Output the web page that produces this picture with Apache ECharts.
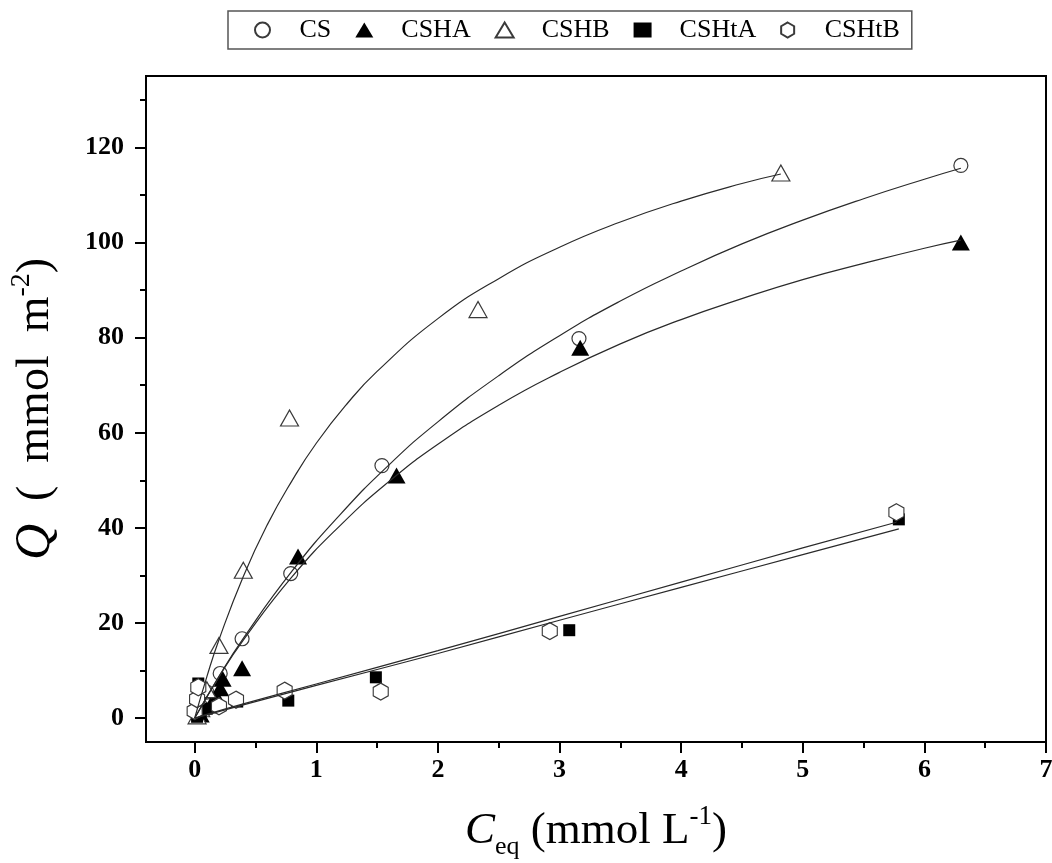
<!DOCTYPE html>
<html>
<head>
<meta charset="utf-8">
<script src="https://cdn.jsdelivr.net/npm/echarts@6/dist/echarts.min.js"></script>
<style>
  html, body { margin: 0; padding: 0; background: #fff; }
  #chart { width: 1052px; height: 863px; }
</style>
</head>
<body>
<div id="chart"></div>
<script>
// Adsorption isotherms: measured points, Q (mmol m-2) against Ceq (mmol L-1)
const csPts = [[0.02, 1.0], [0.05, 2.5], [0.1, 5.5], [0.21, 9.4], [0.39, 16.7], [0.79, 30.4], [1.54, 53.1], [3.16, 79.8], [6.30, 116.2]];
const cshaPts = [[0.05, 0.8], [0.13, 2.7], [0.18, 4.5], [0.21, 6.3], [0.23, 8.3], [0.39, 10.5], [0.85, 34.0], [1.66, 51.0], [3.17, 77.9], [6.30, 100.0]];
const cshbPts = [[0.02, 0.5], [0.05, 2.0], [0.1, 6.0], [0.2, 15.3], [0.40, 31.1], [0.78, 63.1], [2.33, 85.9], [4.82, 114.6]];
const cshtaPts = [[0.02, 0.3], [0.05, 1.0], [0.03, 7.3], [0.1, 2.0], [0.35, 3.5], [0.77, 3.7], [1.49, 8.6], [3.08, 18.5], [5.79, 41.8]];
const cshtbPts = [[0.0, 1.5], [0.02, 4.0], [0.03, 6.5], [0.2, 2.5], [0.34, 3.9], [0.74, 5.8], [1.53, 5.6], [2.92, 18.3], [5.77, 43.3]];

// Fitted curves, sampled along each isotherm
const csFit = [[0, 0], [0.2, 8.8], [0.4, 16.8], [0.8, 30.9], [1.2, 42.9], [1.6, 53.3], [2.0, 62.3], [2.5, 72.0], [3.0, 80.4], [3.5, 87.7], [4.0, 94.0], [4.5, 99.7], [5.0, 104.7], [5.5, 109.2], [6.0, 113.3], [6.3, 115.6]];
const cshaFit = [[0, 0], [0.2, 8.7], [0.4, 16.4], [0.8, 29.7], [1.2, 40.6], [1.6, 49.8], [2.0, 57.6], [2.5, 65.8], [3.0, 72.7], [3.5, 78.7], [4.0, 83.8], [4.5, 88.2], [5.0, 92.2], [5.5, 95.6], [6.0, 98.8], [6.3, 100.5]];
const cshbFit = [[0, 0], [0.1, 8.7], [0.2, 16.5], [0.4, 29.8], [0.6, 40.8], [0.8, 49.9], [1.0, 57.8], [1.25, 66.0], [1.5, 72.9], [2.0, 84.0], [2.5, 92.4], [3.0, 99.0], [3.5, 104.3], [4.0, 108.7], [4.5, 112.4], [4.82, 114.4]];
const cshtaFit = [[0, 0], [0.1, 0.7], [0.4, 2.8], [1, 6.9], [2, 13.6], [3, 20.6], [4, 27.5], [5, 34.4], [5.79, 39.8]];
const cshtbFit = [[0, 0], [0.1, 0.8], [0.4, 3.0], [1, 7.2], [2, 14.2], [3, 21.4], [4, 28.6], [5, 35.8], [5.77, 41.2]];

// Axis ticks
const xMajor = [0, 1, 2, 3, 4, 5, 6, 7];
const xMinor = [0.5, 1.5, 2.5, 3.5, 4.5, 5.5, 6.5];
const yMajor = [0, 20, 40, 60, 80, 100, 120];
const yMinor = [10, 30, 50, 70, 90, 110, 130];

const seriesNames = ['CS', 'CSHA', 'CSHB', 'CSHtA', 'CSHtB'];

const SERIF = '"Liberation Serif", "Times New Roman", serif';
const HEX = 'path://M0,-1 L0.866,-0.5 L0.866,0.5 L0,1 L-0.866,0.5 L-0.866,-0.5 Z';
const INK = '#000';
const EDGE = '#3a3a3a';

function scatter(name, data, symbol, size, filled) {
  return {
    name: name,
    type: 'scatter',
    data: data,
    symbol: symbol,
    symbolSize: size,
    symbolKeepAspect: false,
    z: 3,
    itemStyle: filled
      ? { color: INK, borderColor: INK, borderWidth: 0, opacity: 1 }
      : { color: '#fff', borderColor: EDGE, borderWidth: 1.2, opacity: 1 }
  };
}

function fit(data) {
  return {
    type: 'line',
    data: data,
    smooth: true,
    showSymbol: false,
    silent: true,
    z: 4,
    lineStyle: { color: '#2a2a2a', width: 1.2 }
  };
}

const chart = echarts.init(document.getElementById('chart'), null, { renderer: 'canvas' });

chart.setOption({
  animation: false,
  backgroundColor: '#fff',
  grid: {
    left: 146, right: 6, top: 76, bottom: 121,
    outerBoundsMode: 'none',
    containLabel: false,
    show: true, borderColor: '#000', borderWidth: 2, backgroundColor: 'transparent'
  },
  legend: {
    data: seriesNames,
    left: 228,
    top: 11,
    padding: [6, 12, 6, 26],
    itemWidth: 18,
    itemHeight: 15,
    itemGap: 24,
    borderColor: '#555',
    borderWidth: 1.5,
    formatter: function (n) { return '{t|' + n + '}'; },
    textStyle: {
      rich: {
        t: { fontFamily: SERIF, fontSize: 26, color: '#000', padding: [0, 0, 0, 23] }
      }
    }
  },
  xAxis: [
    {
      type: 'value',
      min: -0.4,
      max: 7,
      axisLine: { onZero: false, lineStyle: { color: '#000', width: 2 } },
      axisTick: { show: true, length: 11, customValues: xMajor, lineStyle: { color: '#000', width: 2 } },
      axisLabel: { customValues: xMajor, margin: 15, fontFamily: SERIF, fontWeight: 'bold', fontSize: 26, color: '#000' },
      splitLine: { show: false },
      name: '{c|C}{e|eq}{n| (mmol L}{s|-1}{n|)}',
      nameLocation: 'middle',
      nameGap: 60,
      nameTextStyle: {
        rich: {
          c: { fontFamily: SERIF, fontStyle: 'italic', fontSize: 45, color: '#000' },
          e: { fontFamily: SERIF, fontSize: 26, color: '#000', padding: [32, 0, 0, 0] },
          n: { fontFamily: SERIF, fontSize: 45, color: '#000' },
          s: { fontFamily: SERIF, fontSize: 27, color: '#000', padding: [0, 0, 28, 0] }
        }
      }
    },
    {
      type: 'value',
      min: -0.4,
      max: 7,
      position: 'bottom',
      offset: 0,
      axisLine: { show: false, onZero: false },
      axisTick: { show: true, length: 6, customValues: xMinor, lineStyle: { color: '#000', width: 2 } },
      axisLabel: { show: false },
      splitLine: { show: false }
    }
  ],
  yAxis: [
    {
      type: 'value',
      min: -5,
      max: 135,
      axisLine: { onZero: false, lineStyle: { color: '#000', width: 2 } },
      axisTick: { show: true, length: 11, customValues: yMajor, lineStyle: { color: '#000', width: 2 } },
      axisLabel: { customValues: yMajor, margin: 22, fontFamily: SERIF, fontWeight: 'bold', fontSize: 26, color: '#000' },
      splitLine: { show: false },
      name: '{q|Q}{n|  (  mmol  m}{s|-2}{n|)}',
      nameLocation: 'middle',
      nameGap: 82,
      nameTextStyle: {
        rich: {
          q: { fontFamily: SERIF, fontStyle: 'italic', fontSize: 50, color: '#000' },
          n: { fontFamily: SERIF, fontSize: 46, color: '#000' },
          s: { fontFamily: SERIF, fontSize: 28, color: '#000', padding: [0, 0, 28, 0] }
        }
      }
    },
    {
      type: 'value',
      min: -5,
      max: 135,
      position: 'left',
      offset: 0,
      axisLine: { show: false, onZero: false },
      axisTick: { show: true, length: 6, customValues: yMinor, lineStyle: { color: '#000', width: 2 } },
      axisLabel: { show: false },
      splitLine: { show: false }
    }
  ],
  series: [
    scatter('CS', csPts, 'circle', 14, false),
    scatter('CSHA', cshaPts, 'triangle', [18, 16], true),
    scatter('CSHB', cshbPts, 'triangle', [18, 16], false),
    scatter('CSHtA', cshtaPts, 'rect', 12, true),
    scatter('CSHtB', cshtbPts, HEX, [15, 17], false),
    fit(csFit),
    fit(cshaFit),
    fit(cshbFit),
    fit(cshtaFit),
    fit(cshtbFit)
  ]
});
</script>
</body>
</html>
